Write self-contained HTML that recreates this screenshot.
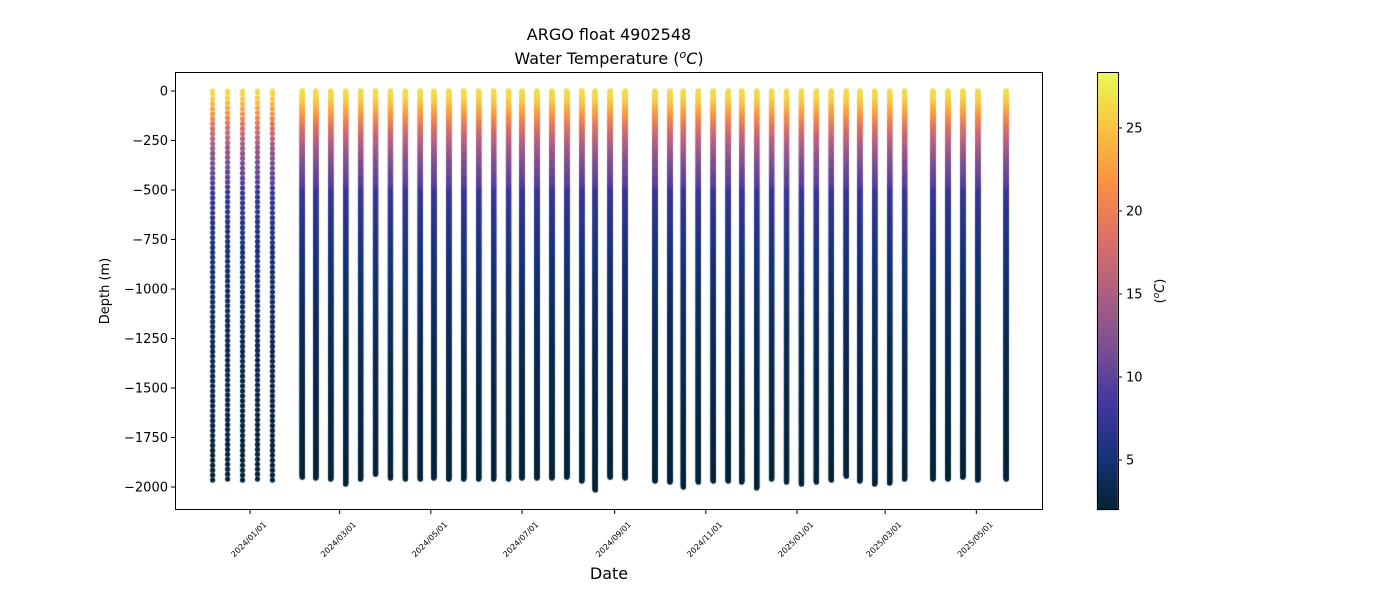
<!DOCTYPE html>
<html><head><meta charset="utf-8"><style>
body{margin:0;background:#fff;width:1400px;height:600px;overflow:hidden;font-family:"DejaVu Sans","Liberation Sans",sans-serif}
#wrap{position:relative;width:1400px;height:600px}
canvas,svg{position:absolute;left:0;top:0}
</style></head><body>
<div id="wrap">
<canvas id="cv" width="1400" height="600"></canvas>
<svg id="sv" width="1400" height="600"></svg>
</div>
<script>
const profileDates=["2023-12-07","2023-12-17","2023-12-27","2024-01-06","2024-01-16","2024-02-05","2024-02-14","2024-02-24","2024-03-05","2024-03-15","2024-03-25","2024-04-04","2024-04-14","2024-04-24","2024-05-03","2024-05-13","2024-05-23","2024-06-02","2024-06-12","2024-06-22","2024-07-01","2024-07-11","2024-07-21","2024-07-31","2024-08-10","2024-08-19","2024-08-29","2024-09-08","2024-09-28","2024-10-08","2024-10-17","2024-10-27","2024-11-06","2024-11-16","2024-11-25","2024-12-05","2024-12-15","2024-12-25","2025-01-04","2025-01-14","2025-01-24","2025-02-03","2025-02-12","2025-02-22","2025-03-04","2025-03-14","2025-04-02","2025-04-12","2025-04-22","2025-05-02","2025-05-21"];
const maxDepths=[1965,1960,1965,1960,1965,1950,1955,1960,1985,1960,1935,1955,1960,1960,1955,1960,1960,1960,1960,1960,1955,1955,1955,1950,1970,2015,1950,1955,1970,1975,2000,1975,1970,1970,1975,2005,1960,1975,1985,1975,1965,1945,1970,1985,1980,1960,1960,1960,1950,1965,1960];
const sampleStep=[25,25,25,25,25,2,2,2,2,2,2,2,2,2,2,2,2,2,2,2,2,2,2,2,2,2,2,2,2,2,2,2,2,2,2,2,2,2,2,2,2,2,2,2,2,2,2,2,2,2,2];
const profDepth=[0,30,60,100,150,200,250,350,470,490,600,800,1000,1300,1600,2020];
const profTemp=[26.5,26,24.5,22.5,20,17.5,15.5,12,9.5,8,7,5.5,4.5,3.5,2.8,2.2];
const yTicks=[0,-250,-500,-750,-1000,-1250,-1500,-1750,-2000];
const xTicks=["2024-01-01","2024-03-01","2024-05-01","2024-07-01","2024-09-01","2024-11-01","2025-01-01","2025-03-01","2025-05-01"];
const cbTicks=[5,10,15,20,25];
const cmap=[[4,35,51],[23,51,122],[70,55,160],[125,80,145],[175,95,130],[222,112,101],[249,146,66],[249,196,65],[232,250,91]];

const L=175,R=1043,T=72,B=510;
const yMin=-2116,yMax=96;
const day0=Date.UTC(2024,0,1);
function dOf(s){const p=s.split('-');return (Date.UTC(+p[0],p[1]-1,+p[2])-day0)/864e5;}
const X=s=>250+dOf(s)*1.4945;
const Y=v=>T+(yMax-v)/(yMax-yMin)*(B-T);
const cMin=1.99,cMax=28.37;
const CY=v=>T+(cMax-v)/(cMax-cMin)*(B-T);
function color(t){let f=Math.max(0,Math.min(1,(t-cMin)/(cMax-cMin)))*(cmap.length-1);let i=Math.min(cmap.length-2,Math.floor(f)),r=f-i;const a=cmap[i],b=cmap[i+1];return `rgb(${a.map((v,k)=>Math.round(v+(b[k]-v)*r)).join(',')})`;}
function tempAt(d){for(let i=0;i<profDepth.length-1;i++){if(d<=profDepth[i+1]){const r=(d-profDepth[i])/(profDepth[i+1]-profDepth[i]);return profTemp[i]+(profTemp[i+1]-profTemp[i])*r;}}return profTemp[profTemp.length-1];}

const cv=document.getElementById('cv'),ctx=cv.getContext('2d');
ctx.fillStyle='#fff';ctx.fillRect(0,0,1400,600);
ctx.save();ctx.beginPath();ctx.rect(L,T,R-L,B-T);ctx.clip();
profileDates.forEach((dt,i)=>{const x=X(dt);const st=sampleStep[i];
 for(let d=maxDepths[i];d>=0;d-=st){ctx.fillStyle=color(tempAt(d));ctx.beginPath();ctx.arc(x,Y(-d),2.6,0,Math.PI*2);ctx.fill();}
 ctx.fillStyle=color(tempAt(0));ctx.beginPath();ctx.arc(x,Y(0),2.6,0,Math.PI*2);ctx.fill();
});
ctx.restore();
for(let y=T;y<B;y++){const v=cMax-(y-T)/(B-T)*(cMax-cMin);ctx.fillStyle=color(v);ctx.fillRect(1097,y,21,1);}

const NS='http://www.w3.org/2000/svg',sv=document.getElementById('sv');
function mk(tag,attrs,txt){const e=document.createElementNS(NS,tag);for(const k in attrs)e.setAttribute(k,attrs[k]);if(txt!==undefined)e.textContent=txt;sv.appendChild(e);return e;}
let e;
e=mk('rect',{x:L+0.5,y:T+0.5,width:R-L-1,height:B-T-1,fill:'none',stroke:'#000','stroke-width':1});


e=mk('rect',{x:1097.5,y:T+0.5,width:21,height:B-T-1,fill:'none',stroke:'#000','stroke-width':1});


yTicks.forEach(v=>{const y=Y(v);
 e=mk('line',{x1:L-4,x2:L,y1:y,y2:y,stroke:'#000'});
 
 
 e=mk('text',{x:L-7,y:y+4.5,'text-anchor':'end','font-size':13},String(v).replace('-','\u2212'));
 
 
});
xTicks.forEach(s=>{const x=X(s);
 e=mk('line',{x1:x,x2:x,y1:B,y2:B+4,stroke:'#000'});
 
 
 const ax=x+17,ay=B+15;
 e=mk('text',{x:ax,y:ay,'text-anchor':'end','font-size':8,transform:`rotate(-45 ${ax} ${ay})`},s.replace(/-/g,'/'));
 
 
});
cbTicks.forEach(v=>{const y=CY(v);
 e=mk('line',{x1:1118,x2:1122,y1:y,y2:y,stroke:'#000'});
 
 
 e=mk('text',{x:1126,y:y+4.5,'font-size':13},String(v));
 
 
});
e=mk('text',{x:609,y:40,'text-anchor':'middle','font-size':16},'ARGO float 4902548');


e=mk('text',{x:609,y:64,'text-anchor':'middle','font-size':16});
e.innerHTML='Water Temperature (<tspan font-style="italic" font-size="11" dy="-6">o</tspan><tspan font-style="italic" dy="6">C</tspan>)';


e=mk('text',{x:109,y:291,'text-anchor':'middle','font-size':13,transform:'rotate(-90 109 291)'},'Depth (m)');


e=mk('text',{x:609,y:579,'text-anchor':'middle','font-size':16},'Date');


e=mk('text',{x:1164,y:291,'text-anchor':'middle','font-size':13,transform:'rotate(-90 1164 291)'});
e.innerHTML='(<tspan font-style="italic" font-size="9" dy="-5">o</tspan><tspan font-style="italic" dy="5">C</tspan>)';


</script>
</body></html>
